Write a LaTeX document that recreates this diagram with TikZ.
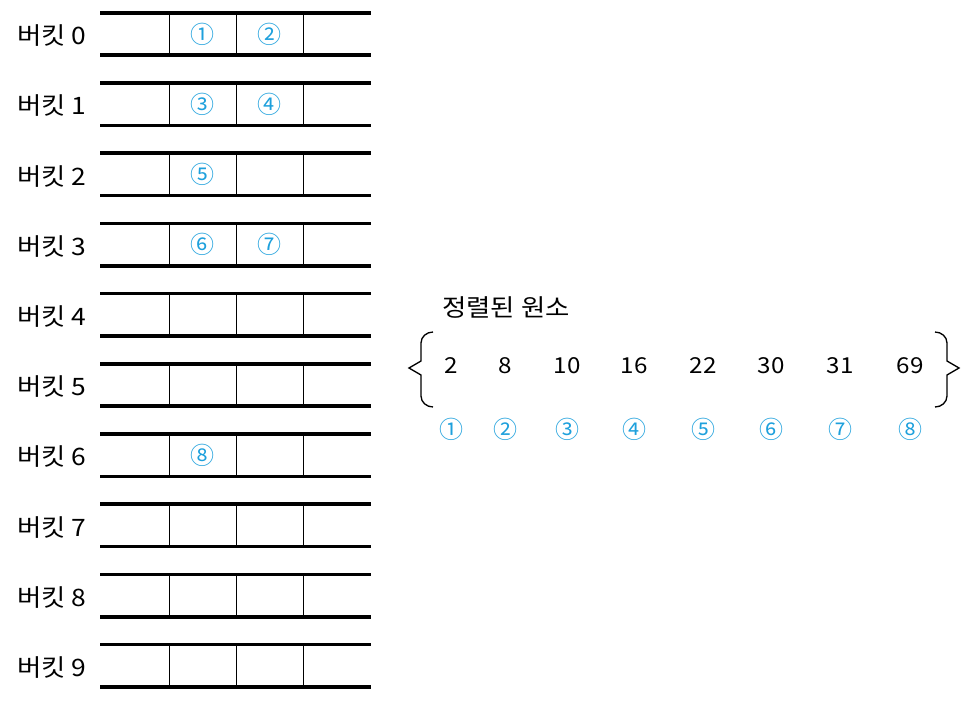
\documentclass[tikz,border=0pt]{standalone}
\usepackage{fontspec}
\setmainfont{Noto Sans CJK KR}
\newfontfamily\widekr[FakeStretch=1.1]{Noto Sans CJK KR}
\begin{document}
\begin{tikzpicture}[x=0.75pt,y=-0.75pt,
  lbl/.style={font=\widekr\fontsize{18}{20}\selectfont, inner sep=0pt, anchor=west},
  num/.style={font=\widekr\fontsize{16.5}{18}\selectfont, inner sep=0pt},
  circ/.style={font=\fontsize{18}{20}\selectfont, text=cblue, inner sep=0pt},
  rail/.style={line width=2.7pt},
  divider/.style={line width=0.7pt},
  bracestyle/.style={line width=1pt}]
\definecolor{cblue}{RGB}{30,160,220}
\useasboundingbox (0,0) rectangle (968,703);
% buckets
\foreach \i in {0,...,9}{
  \pgfmathsetmacro{\t}{12.7+70.2*\i}
  \pgfmathsetmacro{\b}{\t+42.5}
  \pgfmathsetmacro{\m}{\t+23}
  \draw[rail] (100,\t) -- (371,\t);
  \draw[rail] (100,\b) -- (371,\b);
  \foreach \xx in {169,236,303}{\draw[divider] (\xx,\t) -- (\xx,\b);}
  \node[lbl] (b\i) at (17,\m) {버킷 \i};
}
% bucket contents
\node[circ] (c01) at (202,34.2) {①};
\node[circ] (c02) at (269,34.2) {②};
\node[circ] (c11) at (202,104.4) {③};
\node[circ] (c12) at (269,104.4) {④};
\node[circ] (c21) at (202,174.6) {⑤};
\node[circ] (c31) at (202,244.8) {⑥};
\node[circ] (c32) at (269,244.8) {⑦};
\node[circ] (c61) at (202,455.4) {⑧};
% sorted elements
\node[lbl] (title) at (442,307) {정렬된 원소};
\foreach \v/\xx/\c [count=\k] in {2/451/①,8/505/②,10/567/③,16/634/④,22/703/⑤,30/771/⑥,31/840/⑦,69/910/⑧}{
  \node[num] (n\k) at (\xx,366) {\v};
  \node[circ] (o\k) at (\xx,429) {\c};
}
% braces
\draw[bracestyle] (433,332) to[out=180,in=90] (421,343) -- (421,361) -- (409,368) -- (421,375) -- (421,396) to[out=-90,in=180] (433,407);
\draw[bracestyle] (935,332) to[out=0,in=90] (947,343) -- (947,361) -- (959,368) -- (947,375) -- (947,396) to[out=-90,in=0] (935,407);
\end{tikzpicture}
\end{document}
